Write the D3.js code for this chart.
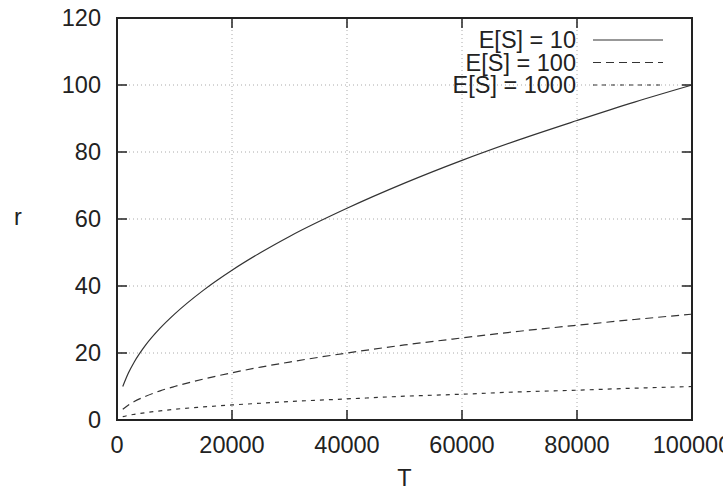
<!DOCTYPE html>
<html>
<head>
<meta charset="utf-8">
<script src="https://cdn.jsdelivr.net/npm/d3@7"></script>
<style>
  body { margin: 0; background: #fff; }
  text { font-family: "Liberation Sans", Arial, sans-serif; fill: #222; }
</style>
</head>
<body>
<div id="chart"></div>
<script>
// values
var T = [1000, 2000, 3000, 5000, 7500, 10000, 15000, 20000, 25000, 30000, 40000, 50000, 60000, 70000, 80000, 90000, 100000];
var rES10   = [10, 14.1, 17.3, 22.4, 27.4, 31.6, 38.7, 44.7, 50, 54.8, 63.2, 70.7, 77.5, 83.7, 89.4, 94.9, 100];
var rES100  = [3.2, 4.5, 5.5, 7.1, 8.7, 10, 12.2, 14.1, 15.8, 17.3, 20, 22.4, 24.5, 26.5, 28.3, 30, 31.6];
var rES1000 = [1, 1.4, 1.7, 2.2, 2.7, 3.2, 3.9, 4.5, 5, 5.5, 6.3, 7.1, 7.7, 8.4, 8.9, 9.5, 10];
var seriesNames = ["E[S] = 10", "E[S] = 100", "E[S] = 1000"];
var xTicks = [0, 20000, 40000, 60000, 80000, 100000];
var yTicks = [0, 20, 40, 60, 80, 100, 120];

var width = 723, height = 490;
var margin = { top: 18, right: 31, bottom: 70, left: 117 };
var w = width - margin.left - margin.right,
    h = height - margin.top - margin.bottom;
var fontSize = "23.5px";

var svg = d3.select("#chart").append("svg")
    .attr("width", width)
    .attr("height", height);

var g = svg.append("g")
    .attr("transform", `translate(${margin.left},${margin.top})`);

var x = d3.scaleLinear().domain([0, 100000]).range([0, w]);
var y = d3.scaleLinear().domain([0, 120]).range([h, 0]);

// grid
g.selectAll(".vgrid")
  .data(xTicks.slice(1, -1))
  .enter().append("line")
    .attr("x1", d => x(d)).attr("x2", d => x(d))
    .attr("y1", 0).attr("y2", h)
    .attr("stroke", "#aaa").attr("stroke-width", 1)
    .attr("stroke-dasharray", "1,3");

g.selectAll(".hgrid")
  .data(yTicks.slice(1, -1))
  .enter().append("line")
    .attr("x1", 0).attr("x2", w)
    .attr("y1", d => y(d)).attr("y2", d => y(d))
    .attr("stroke", "#aaa").attr("stroke-width", 1)
    .attr("stroke-dasharray", "1,3");

// inward ticks on all four sides
var tickLen = 10;
var ticks = g.append("g").attr("stroke", "#222").attr("stroke-width", 1.5);
xTicks.slice(1, -1).forEach(function (d) {
    ticks.append("line").attr("x1", x(d)).attr("x2", x(d)).attr("y1", h).attr("y2", h - tickLen);
    ticks.append("line").attr("x1", x(d)).attr("x2", x(d)).attr("y1", 0).attr("y2", tickLen);
});
yTicks.slice(1, -1).forEach(function (d) {
    ticks.append("line").attr("x1", 0).attr("x2", tickLen).attr("y1", y(d)).attr("y2", y(d));
    ticks.append("line").attr("x1", w).attr("x2", w - tickLen).attr("y1", y(d)).attr("y2", y(d));
});

// tick labels
g.selectAll(".xlab")
  .data(xTicks)
  .enter().append("text")
    .attr("x", d => x(d)).attr("y", h + 33)
    .attr("text-anchor", "middle")
    .style("font-size", fontSize)
    .text(d => d);

g.selectAll(".ylab")
  .data(yTicks)
  .enter().append("text")
    .attr("x", -16).attr("y", d => y(d) + 8)
    .attr("text-anchor", "end")
    .style("font-size", fontSize)
    .text(d => d);

// axis titles
g.append("text")
    .attr("x", w / 2).attr("y", h + 66)
    .attr("text-anchor", "middle")
    .style("font-size", fontSize)
    .text("T");
g.append("text")
    .attr("x", -99).attr("y", h / 2 + 6)
    .attr("text-anchor", "middle")
    .style("font-size", fontSize)
    .text("r");

// curves
var data = [rES10, rES100, rES1000].map(function (vals, i) {
    return { name: seriesNames[i], points: T.map((t, j) => [t, vals[j]]) };
});
var dashes = [null, "8,5", "4,5"];

var line = d3.line()
    .x(d => x(d[0]))
    .y(d => y(d[1]))
    .curve(d3.curveMonotoneX);

g.selectAll(".curve")
  .data(data)
  .enter().append("path")
    .attr("d", d => line(d.points))
    .attr("fill", "none")
    .attr("stroke", "#333")
    .attr("stroke-width", 1.2)
    .attr("stroke-dasharray", (d, i) => dashes[i]);

// legend
var legend = g.selectAll(".legend")
  .data(data)
  .enter().append("g")
    .attr("transform", (d, i) => `translate(0,${22 + i * 22.5})`);
legend.append("text")
    .attr("x", 459).attr("y", 8)
    .attr("text-anchor", "end")
    .style("font-size", fontSize)
    .text(d => d.name);
legend.append("line")
    .attr("x1", 476).attr("x2", 546)
    .attr("y1", 0).attr("y2", 0)
    .attr("stroke", "#333").attr("stroke-width", 1.2)
    .attr("stroke-dasharray", (d, i) => dashes[i]);

// frame
g.append("rect")
    .attr("x", 0).attr("y", 0)
    .attr("width", w).attr("height", h)
    .attr("fill", "none")
    .attr("stroke", "#222")
    .attr("stroke-width", 2);
</script>
</body>
</html>
